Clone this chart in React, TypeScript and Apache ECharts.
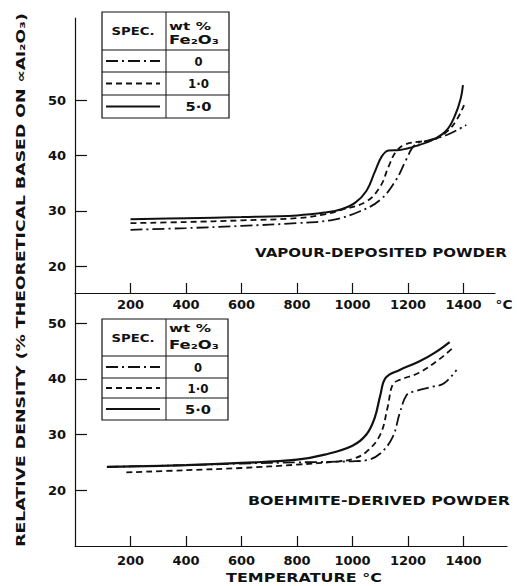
import React, { useEffect, useRef } from "react";
import * as echarts from "echarts";

// Temperature tick labels (°C) and density tick labels (%)
const tempTicks = [200, 400, 600, 800, 1000, 1200, 1400];
const densityTicks = [20, 30, 40, 50];

// Vapour-deposited powder: [temperature °C, relative density %]
const vapour0: [number, number][] = [
  [200, 26.6], [400, 26.9], [600, 27.3], [800, 27.8], [930, 28.4], [1025, 29.9],
  [1100, 32.0], [1157, 35.6], [1193, 39.2], [1225, 41.9], [1280, 42.8], [1340, 43.7], [1410, 45.5],
];
const vapour1: [number, number][] = [
  [200, 27.8], [400, 28.0], [600, 28.3], [800, 28.7], [900, 29.4], [960, 30.2], [1050, 31.7],
  [1100, 34.4], [1130, 38.0], [1157, 40.7], [1190, 42.0], [1240, 42.5], [1290, 42.8],
  [1340, 44.3], [1375, 46.4], [1402, 49.1],
];
const vapour5: [number, number][] = [
  [200, 28.5], [400, 28.7], [600, 28.9], [800, 29.2], [900, 29.7], [960, 30.3], [1010, 31.5],
  [1050, 33.6], [1080, 37.0], [1105, 39.8], [1130, 40.9], [1170, 41.0], [1240, 41.9],
  [1300, 43.1], [1340, 44.6], [1370, 47.3], [1390, 50.3], [1398, 52.7],
];

// Boehmite-derived powder
const boehmite0: [number, number][] = [
  [115, 24.2], [400, 24.5], [600, 24.8], [800, 25.0], [1000, 25.2], [1050, 25.4], [1100, 26.6],
  [1145, 29.6], [1170, 33.8], [1195, 37.1], [1220, 37.7], [1290, 38.6], [1330, 39.2], [1375, 41.6],
];
const boehmite1: [number, number][] = [
  [185, 23.2], [400, 23.6], [600, 24.0], [800, 24.6], [950, 25.2], [1000, 25.6], [1050, 26.9],
  [1100, 30.0], [1127, 35.0], [1145, 39.0], [1170, 39.8], [1240, 41.1], [1310, 43.4], [1360, 45.5],
];
const boehmite5: [number, number][] = [
  [115, 24.2], [400, 24.5], [600, 24.9], [800, 25.5], [900, 26.4], [1000, 28.0], [1050, 30.0],
  [1080, 33.0], [1100, 37.0], [1120, 40.2], [1170, 41.6], [1240, 43.1], [1300, 44.8], [1350, 46.6],
];

const legendRows = ["0", "1·0", "5·0"];
const legendRowWidths = [8, 21, 26];

const FONT = "'DejaVu Sans', Verdana, sans-serif";
const INK = "#111";

const dashDot = [12, 4, 2, 4];
const dashed = [6, 4];

function measure(text: string, size: number, weight = "bold"): number {
  const c = document.createElement("canvas").getContext("2d")!;
  c.font = `${weight} ${size}px ${FONT}`;
  return c.measureText(text).width;
}

function fitText(text: string, cx: number, cy: number, size: number, width: number, rotation = 0, align = "center") {
  const w = measure(text, size);
  return {
    type: "text",
    x: cx,
    y: cy,
    rotation,
    scaleX: width / w,
    style: {
      text,
      fill: INK,
      fontSize: size,
      fontWeight: "bold",
      fontFamily: FONT,
      align,
      verticalAlign: "middle",
    },
  };
}

function hline(x1: number, x2: number, y: number, dash?: number[], lw = 1) {
  return {
    type: "line",
    shape: { x1, y1: y, x2, y2: y },
    style: { stroke: INK, lineWidth: lw, lineDash: dash || null },
  };
}
function vline(x: number, y1: number, y2: number) {
  return {
    type: "line",
    shape: { x1: x, y1, x2: x, y2 },
    style: { stroke: INK, lineWidth: 1 },
  };
}

function table(x: number, y: number, w: number, h: number, split: number, rows: number[], hdr: { spec: number; wt: number; fe: number }) {
  const out: any[] = [
    { type: "rect", shape: { x, y, width: w, height: h }, style: { fill: "#fff", stroke: INK, lineWidth: 1.2 } },
    vline(split, y, y + h),
  ];
  rows.forEach((r) => out.push(hline(x, x + w, r)));
  const bounds = [...rows, y + h];
  const styles = [dashDot, dashed, undefined];
  for (let i = 0; i < 3; i++) {
    const cy = (bounds[i] + bounds[i + 1]) / 2;
    out.push(hline(x + 4, split - 6, cy, styles[i], 1.8));
    out.push(fitText(legendRows[i], (split + x + w) / 2 + 1, cy + 0.5, 12, legendRowWidths[i]));
  }
  out.push(fitText("SPEC.", (x + split) / 2 - 1, hdr.spec, 11, 43));
  out.push(fitText("wt %", split + 3, hdr.wt, 10, 42, 0, "left"));
  out.push(fitText("Fe₂O₃", split + 3, hdr.fe, 12, 50, 0, "left"));
  return out;
}

const tickFormatter = (v: number) => String(v);

function makeXAxis(gridIndex: number, max: number, margin: number) {
  return {
    type: "value",
    gridIndex,
    min: 0,
    max,
    axisLine: { show: true, onZero: false, lineStyle: { color: INK, width: 1.2 } },
    axisTick: { show: true, inside: true, length: 10, customValues: tempTicks, lineStyle: { color: INK, width: 1.2 } },
    axisLabel: { customValues: tempTicks, formatter: tickFormatter, margin, color: INK, fontSize: 13, fontWeight: "bold", fontFamily: FONT },
    splitLine: { show: false },
  };
}
function makeYAxis(gridIndex: number, min: number, max: number) {
  return {
    type: "value",
    gridIndex,
    min,
    max,
    axisLine: { show: true, onZero: false, lineStyle: { color: INK, width: 1.2 } },
    axisTick: { show: true, inside: true, length: 12, customValues: densityTicks, lineStyle: { color: INK, width: 1.2 } },
    axisLabel: { customValues: densityTicks, formatter: tickFormatter, margin: 9, color: INK, fontSize: 13, fontWeight: "bold", fontFamily: FONT },
    splitLine: { show: false },
  };
}

function lineSeries(data: [number, number][], idx: number, dash: any, width: number) {
  return {
    type: "line",
    xAxisIndex: idx,
    yAxisIndex: idx,
    data,
    smooth: 0.4,
    showSymbol: false,
    lineStyle: { color: INK, width, type: dash },
  };
}

export default function App() {
  const ref = useRef<HTMLDivElement>(null);
  useEffect(() => {
    if (!ref.current) return;
    const chart = echarts.init(ref.current, undefined, { renderer: "svg" });
    const graphics: any[] = [
      fitText("RELATIVE DENSITY (% THEORETICAL BASED ON ∝Al₂O₃)", 21, 280, 12, 534, Math.PI / 2),
      fitText("VAPOUR-DEPOSITED POWDER", 381, 253, 12, 252),
      fitText("BOEHMITE-DERIVED POWDER", 379, 501, 12, 262),
      fitText("TEMPERATURE °C", 304, 578, 12, 156),
      fitText("°C", 504, 305, 12, 17),
      ...table(102, 12, 127, 106, 166, [50, 72, 95], { spec: 31, wt: 27, fe: 40 }),
      ...table(102, 319, 126, 101, 166, [356, 378, 398], { spec: 338, wt: 329, fe: 345 }),
    ];
    chart.setOption({
      animation: false,
      backgroundColor: "#fff",
      grid: [
        { left: 75, top: 18, width: 420, height: 275 },
        { left: 75, top: 293, width: 432, height: 253 },
      ],
      xAxis: [makeXAxis(0, 420 / 0.2775, 5), makeXAxis(1, 432 / 0.2775, 8)],
      yAxis: [makeYAxis(0, 15.2, 64.8), makeYAxis(1, 10, 55.4)],
      series: [
        lineSeries(vapour0, 0, dashDot, 1.8),
        lineSeries(vapour1, 0, dashed, 1.8),
        lineSeries(vapour5, 0, "solid", 2),
        lineSeries(boehmite0, 1, dashDot, 1.8),
        lineSeries(boehmite1, 1, dashed, 1.8),
        lineSeries(boehmite5, 1, "solid", 2.2),
      ],
      graphic: graphics,
    });
    return () => chart.dispose();
  }, []);
  return <div ref={ref} style={{ position: "fixed", left: 0, top: 0, width: 517, height: 586 }} />;
}
